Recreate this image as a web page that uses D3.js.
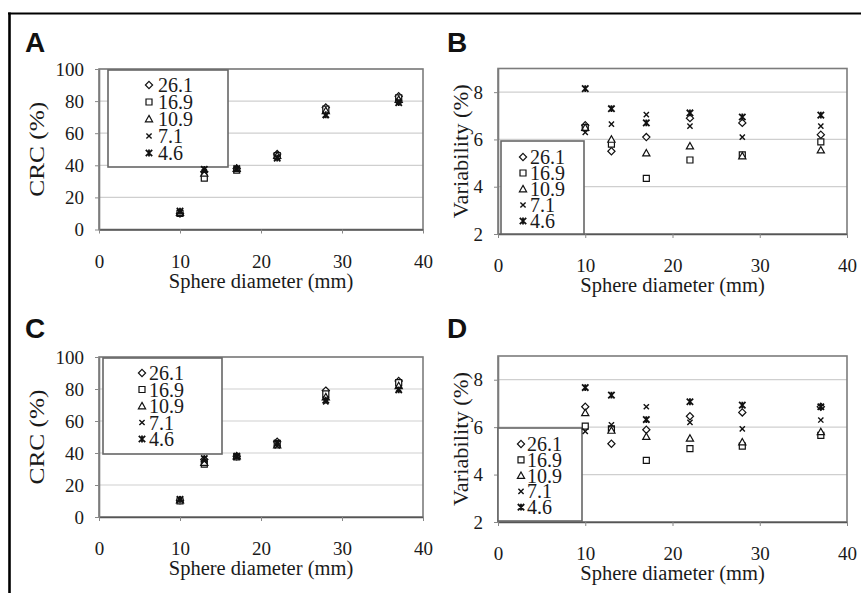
<!DOCTYPE html>
<html>
<head>
<meta charset="utf-8">
<script src="https://cdn.jsdelivr.net/npm/d3@7"></script>
<style>
  body { margin: 0; background: #fff; }
  text { font-family: "Liberation Serif", "Times New Roman", serif; fill: #1a1a1a; }
</style>
</head>
<body>
<div id="chart"></div>
<script>
// sphere diameters (mm) and the series (labels of the legend)
var diameters = [10, 13, 17, 22, 28, 37];
var seriesNames = ["26.1", "16.9", "10.9", "7.1", "4.6"];
var xTicks = [0, 10, 20, 30, 40];
var crcTicks = [0, 20, 40, 60, 80, 100];
var varTicks = [2, 4, 6, 8];

// panel A - CRC (%)
var crcA = [
  [10, 36, 38, 47, 76, 83],
  [10, 32, 37, 46, 75, 82],
  [10.5, 35, 38, 46, 74, 81],
  [11, 36, 37.5, 45, 71, 80],
  [11.5, 37.5, 38, 44.5, 71.5, 79]
];
// panel B - variability (%)
var varB = [
  [6.6, 5.5, 6.1, 6.9, 6.7, 6.2],
  [6.5, 5.8, 4.35, 5.13, 5.35, 5.9],
  [6.5, 6.0, 5.42, 5.72, 5.3, 5.55],
  [6.3, 6.65, 7.05, 6.56, 6.1, 6.56],
  [8.15, 7.3, 6.7, 7.12, 6.95, 7.03]
];
// panel C - CRC (%)
var crcC = [
  [10.5, 36, 38, 47, 79, 85],
  [10, 33, 37.5, 46, 77, 84],
  [10.5, 34, 38, 45, 75, 82],
  [11, 35, 37.5, 44.5, 72, 80],
  [11, 36.5, 38, 46, 73, 79.5]
];
// panel D - variability (%)
var varD = [
  [6.86, 5.3, 5.89, 6.46, 6.62, 6.86],
  [6.04, 5.93, 4.6, 5.09, 5.2, 5.65],
  [6.6, 5.86, 5.6, 5.53, 5.37, 5.8],
  [5.82, 6.1, 6.86, 6.2, 5.93, 6.3],
  [7.67, 7.35, 6.32, 7.07, 6.93, 6.86]
];

var serif = "'Liberation Serif', 'Times New Roman', serif";

var svg = d3.select("#chart")
  .append("svg")
    .attr("width", 861)
    .attr("height", 593);

// marker paths, one per series
var markers = [
  "M0,-3.6L3.6,0L0,3.6L-3.6,0Z",
  "M-3,-3L3,-3L3,3L-3,3Z",
  "M0,-3.6L3.6,2.8L-3.6,2.8Z",
  "M-2.6,-2.6L2.6,2.6M2.6,-2.6L-2.6,2.6",
  "M-3.2,-3.2L3.2,3.2M3.2,-3.2L-3.2,3.2M0,-3.4L0,3.4"
];
var markerFill = ["#fff", "#fff", "#fff", "none", "none"];
var markerWidth = [1.2, 1.2, 1.2, 1.4, 1.8];

var panels = [
  {letter: "A", lx: 25, ly: 52, left: 99, right: 423, top: 69, bottom: 229.5,
   domain: [0, 100], ticks: crcTicks, values: crcA, ylabel: "CRC (%)", ylabelX: 44, ylabelLen: 95,
   leg: {x: 108, y: 70, w: 120, h: 97, mx: 149, tx: 158, row: 85, step: 17}},
  {letter: "B", lx: 447, ly: 52, left: 498, right: 847, top: 68.5, bottom: 234,
   domain: [2, 9], ticks: varTicks, values: varB, ylabel: "Variability (%)", ylabelX: 468, ylabelLen: 134,
   leg: {x: 501, y: 141, w: 83, h: 93, mx: 523, tx: 530, row: 157, step: 16}},
  {letter: "C", lx: 25, ly: 338, left: 99, right: 423, top: 357, bottom: 517,
   domain: [0, 100], ticks: crcTicks, values: crcC, ylabel: "CRC (%)", ylabelX: 44, ylabelLen: 95,
   leg: {x: 103, y: 358, w: 119, h: 96, mx: 142, tx: 149, row: 373, step: 16.5}},
  {letter: "D", lx: 447, ly: 338, left: 498, right: 847, top: 356, bottom: 522,
   domain: [2, 9], ticks: varTicks, values: varD, ylabel: "Variability (%)", ylabelX: 468, ylabelLen: 134,
   leg: {x: 498, y: 428, w: 84, h: 93, mx: 521, tx: 527, row: 444, step: 15.8}}
];

panels.forEach(function(p) {
  var g = svg.append("g");
  var x = d3.scaleLinear().domain([0, 40]).range([p.left, p.right]);
  var y = d3.scaleLinear().domain(p.domain).range([p.bottom, p.top]);

  // gridlines
  g.selectAll(".grid")
    .data(p.ticks.slice(1))
    .enter()
    .append("line")
      .attr("x1", p.left).attr("x2", p.right)
      .attr("y1", function(d) { return y(d); })
      .attr("y2", function(d) { return y(d); })
      .style("stroke", "#cfcfcf")
      .style("stroke-width", 1.2);

  // plot frame
  g.append("rect")
    .attr("x", p.left).attr("y", p.top)
    .attr("width", p.right - p.left).attr("height", p.bottom - p.top)
    .style("fill", "none")
    .style("stroke", "#7c7c7c")
    .style("stroke-width", 1.6);

  // X axis
  var xa = g.append("g")
    .attr("transform", "translate(0," + p.bottom + ")")
    .call(d3.axisBottom(x).tickValues(xTicks).tickFormat(d3.format("d"))
      .tickSize(4).tickSizeOuter(0).tickPadding(21))
    .attr("font-family", serif)
    .attr("font-size", 19);
  xa.select(".domain").style("stroke", "#555").style("stroke-width", 1.6);
  xa.selectAll(".tick line").style("stroke", "#888");
  xa.selectAll("text").attr("fill", "#1a1a1a");

  // Y axis
  var ya = g.append("g")
    .attr("transform", "translate(" + p.left + ",0)")
    .call(d3.axisLeft(y).tickValues(p.ticks).tickFormat(d3.format("d"))
      .tickSize(4).tickSizeOuter(0).tickPadding(11))
    .attr("font-family", serif)
    .attr("font-size", 19);
  ya.select(".domain").style("stroke", "#7c7c7c").style("stroke-width", 1.6);
  ya.selectAll(".tick line").style("stroke", "#888");
  ya.selectAll("text").attr("fill", "#1a1a1a");

  // axis titles
  g.append("text")
    .attr("x", (p.left + p.right) / 2)
    .attr("y", p.bottom + 58)
    .style("text-anchor", "middle")
    .style("font-size", "20.5px")
    .text("Sphere diameter (mm)");

  g.append("text")
    .attr("transform", "rotate(-90)")
    .attr("x", -(p.top + p.bottom) / 2)
    .attr("y", p.ylabelX)
    .attr("textLength", p.ylabelLen)
    .attr("lengthAdjust", "spacingAndGlyphs")
    .style("text-anchor", "middle")
    .style("font-size", "21px")
    .text(p.ylabel);

  // panel letter
  g.append("text")
    .attr("x", p.lx).attr("y", p.ly)
    .style("font-family", "'Liberation Sans', Arial, sans-serif")
    .style("font-weight", "bold")
    .style("font-size", "28px")
    .style("fill", "#111")
    .text(p.letter);

  // legend
  var L = p.leg;
  g.append("rect")
    .attr("x", L.x).attr("y", L.y).attr("width", L.w).attr("height", L.h)
    .style("fill", "#fff")
    .style("stroke", "#666")
    .style("stroke-width", 1.6);
  seriesNames.forEach(function(name, i) {
    g.append("path")
      .attr("d", markers[i])
      .attr("transform", "translate(" + L.mx + "," + (L.row + i * L.step) + ")")
      .style("fill", markerFill[i])
      .style("stroke", "#111")
      .style("stroke-width", markerWidth[i]);
    g.append("text")
      .attr("x", L.tx)
      .attr("y", L.row + i * L.step)
      .attr("dy", "0.35em")
      .style("font-size", "20px")
      .text(name);
  });

  // points
  p.values.forEach(function(vals, i) {
    g.append("g")
      .selectAll("path")
      .data(vals)
      .enter()
      .append("path")
        .attr("d", markers[i])
        .attr("transform", function(d, j) { return "translate(" + x(diameters[j]) + "," + y(d) + ")"; })
        .style("fill", markerFill[i])
        .style("stroke", "#111")
        .style("stroke-width", markerWidth[i]);
  });
});

// outer frame (top and left edges only)
svg.append("line").attr("x1", 8).attr("x2", 861).attr("y1", 13.5).attr("y2", 13.5)
  .style("stroke", "#000").style("stroke-width", 2.2);
svg.append("line").attr("x1", 9.5).attr("x2", 9.5).attr("y1", 12.5).attr("y2", 593)
  .style("stroke", "#000").style("stroke-width", 2.6);
</script>
</body>
</html>
